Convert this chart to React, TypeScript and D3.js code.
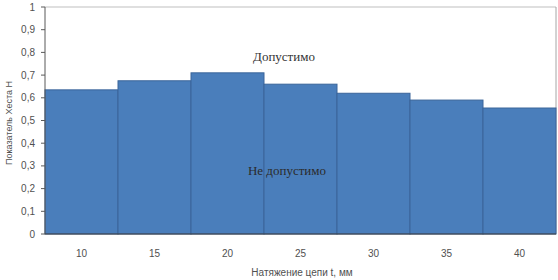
import React from "react";
import * as d3 from "d3";

const categories = ["10", "15", "20", "25", "30", "35", "40"];
const values = [0.635, 0.675, 0.71, 0.66, 0.62, 0.59, 0.555];
const yTicks = [0, 0.1, 0.2, 0.3, 0.4, 0.5, 0.6, 0.7, 0.8, 0.9, 1];
const yLabel = "Показатель Хеста Н";
const xLabel = "Натяжение цепи t, мм";
const zoneAbove = "Допустимо";
const zoneBelow = "Не допустимо";

export default function App() {
  const W = 558, H = 280;
  const left = 45, right = 556, top = 7, bottom = 234;
  const x = d3.scaleBand<string>().domain(categories).range([left, right]).padding(0);
  const y = d3.scaleLinear().domain([0, 1]).range([bottom, top]);
  const fmt = (v: number) => (v === 0 || v === 1 ? String(v) : v.toFixed(1).replace(".", ","));
  return (
    <svg width={W} height={H} style={{ position: "absolute", left: 0, top: 0, background: "#fff" }}
      fontFamily="'Liberation Sans', Arial, sans-serif">
      <line x1={left} x2={right} y1={y(1)} y2={y(1)} stroke="#bfbfbf" strokeWidth={1} />
      <line x1={right} x2={right} y1={y(1)} y2={bottom} stroke="#a6a6a6" strokeWidth={1} />
      {categories.map((c, i) => (
        <rect key={c} x={x(c)!} y={y(values[i])} width={x.bandwidth()} height={bottom - y(values[i])}
          fill="#4a7ebb" stroke="#3a659a" strokeWidth={1} />
      ))}
      <line x1={left} x2={left} y1={y(1)} y2={bottom} stroke="#595959" strokeWidth={1} />
      <line x1={left} x2={right} y1={bottom} y2={bottom} stroke="#404040" strokeWidth={1} />
      {yTicks.map((t) => (
        <g key={t}>
          <line x1={left - 4} x2={left} y1={y(t)} y2={y(t)} stroke="#595959" />
          <text x={left - 10} y={y(t)} dy="0.35em" textAnchor="end" fontSize={10} fill="#505050">{fmt(t)}</text>
        </g>
      ))}
      {categories.map((c) => (
        <text key={c} x={x(c)! + x.bandwidth() / 2} y={253} dy="0.35em" textAnchor="middle" fontSize={10} fill="#505050">{c}</text>
      ))}
      <text transform={`translate(9,123) rotate(-90)`} textAnchor="middle" dy="0.35em" fontSize={9} fill="#505050">{yLabel}</text>
      <text x={302} y={276} textAnchor="middle" fontSize={10} fill="#505050">{xLabel}</text>
      <text x={284} y={56} dy="0.35em" textAnchor="middle" fontSize={13} fill="#333" fontFamily="'Liberation Serif', 'Times New Roman', serif">{zoneAbove}</text>
      <text x={287} y={170} dy="0.35em" textAnchor="middle" fontSize={13} fill="#2b2b2b" fontFamily="'Liberation Serif', 'Times New Roman', serif">{zoneBelow}</text>
    </svg>
  );
}
